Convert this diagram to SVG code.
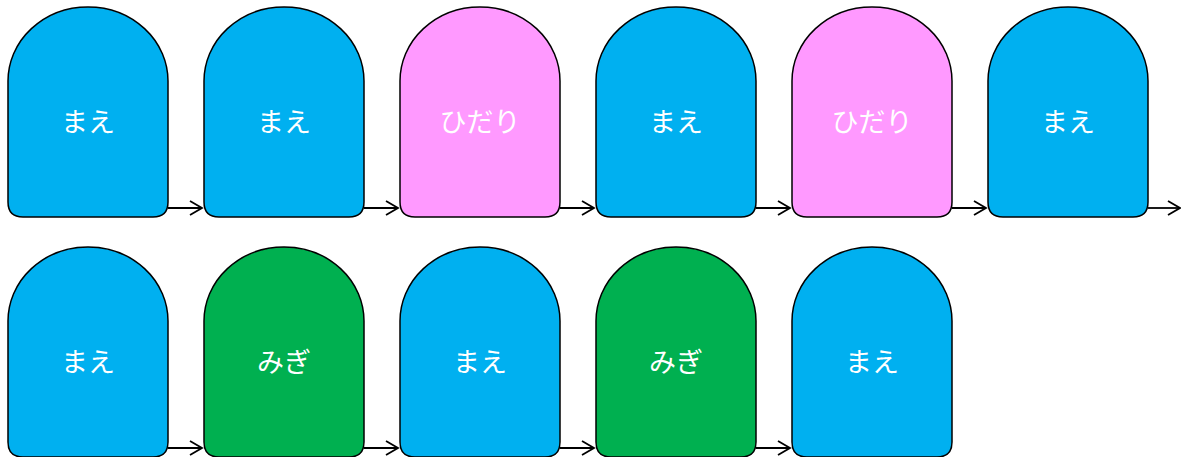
<svg xmlns="http://www.w3.org/2000/svg" width="1181" height="457" viewBox="0 0 1181 457">
<style>
.card{stroke:#000;stroke-width:1.5}
.b{fill:#00B0F0}.p{fill:#FF99FF}.g{fill:#00B050}
.t{fill:#fff;font-family:"Noto Sans CJK JP","Noto Sans",sans-serif;font-size:27px;text-anchor:middle;dominant-baseline:central}
.c{stroke:#000;stroke-width:1.8;fill:none}
</style>
<defs>
<path id="shape" d="M0,74 A80,74 0 0 1 160,74 L160,195 Q160,210 145,210 L15,210 Q0,210 0,195 Z"/>
<marker id="ah" markerWidth="16" markerHeight="18" refX="13" refY="9" orient="auto" markerUnits="userSpaceOnUse">
<path d="M1,2 L13,9 L1,16" fill="none" stroke="#000" stroke-width="1.8"/>
</marker>
</defs>
<g id="n1" transform="translate(8,7)"><use href="#shape" class="card b"/><text class="t" x="80" y="113">まえ</text></g>
<g id="n2" transform="translate(204,7)"><use href="#shape" class="card b"/><text class="t" x="80" y="113">まえ</text></g>
<g id="n3" transform="translate(400,7)"><use href="#shape" class="card p"/><text class="t" x="80" y="113">ひだり</text></g>
<g id="n4" transform="translate(596,7)"><use href="#shape" class="card b"/><text class="t" x="80" y="113">まえ</text></g>
<g id="n5" transform="translate(792,7)"><use href="#shape" class="card p"/><text class="t" x="80" y="113">ひだり</text></g>
<g id="n6" transform="translate(988,7)"><use href="#shape" class="card b"/><text class="t" x="80" y="113">まえ</text></g>
<g id="n7" transform="translate(8,247)"><use href="#shape" class="card b"/><text class="t" x="80" y="113">まえ</text></g>
<g id="n8" transform="translate(204,247)"><use href="#shape" class="card g"/><text class="t" x="80" y="113">みぎ</text></g>
<g id="n9" transform="translate(400,247)"><use href="#shape" class="card b"/><text class="t" x="80" y="113">まえ</text></g>
<g id="n10" transform="translate(596,247)"><use href="#shape" class="card g"/><text class="t" x="80" y="113">みぎ</text></g>
<g id="n11" transform="translate(792,247)"><use href="#shape" class="card b"/><text class="t" x="80" y="113">まえ</text></g>
<g id="connectors">
<line class="c" x1="168" y1="208" x2="202" y2="208" marker-end="url(#ah)"/>
<line class="c" x1="364" y1="208" x2="398" y2="208" marker-end="url(#ah)"/>
<line class="c" x1="560" y1="208" x2="594" y2="208" marker-end="url(#ah)"/>
<line class="c" x1="756" y1="208" x2="790" y2="208" marker-end="url(#ah)"/>
<line class="c" x1="952" y1="208" x2="986" y2="208" marker-end="url(#ah)"/>
<line class="c" x1="1148" y1="208" x2="1180" y2="208" marker-end="url(#ah)"/>
<line class="c" x1="168" y1="448" x2="202" y2="448" marker-end="url(#ah)"/>
<line class="c" x1="364" y1="448" x2="398" y2="448" marker-end="url(#ah)"/>
<line class="c" x1="560" y1="448" x2="594" y2="448" marker-end="url(#ah)"/>
<line class="c" x1="756" y1="448" x2="790" y2="448" marker-end="url(#ah)"/>
</g>
</svg>
